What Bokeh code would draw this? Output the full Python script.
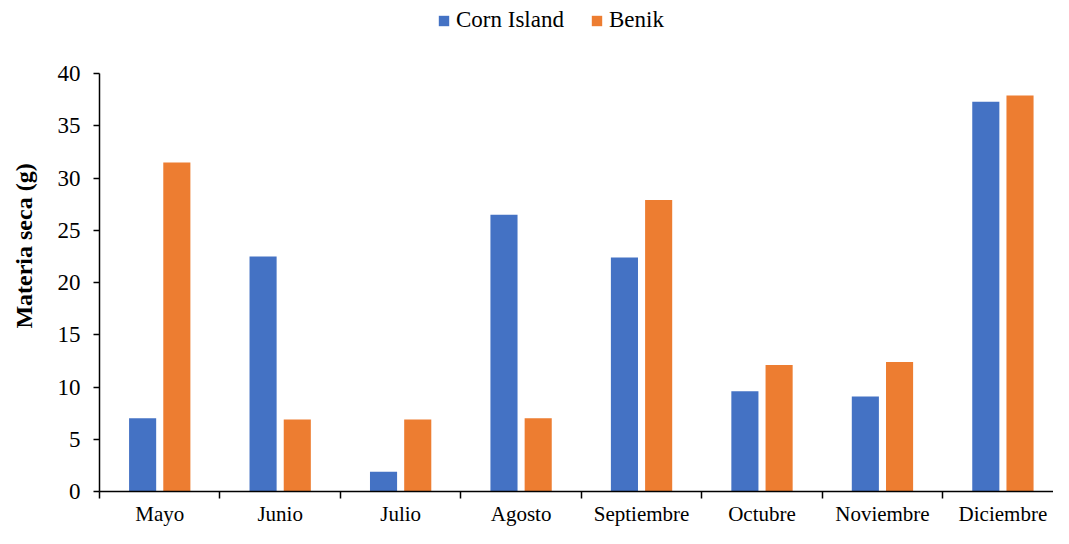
from bokeh.plotting import figure
from bokeh.models import Range1d, FixedTicker, Legend, LegendItem, ColumnDataSource
from bokeh.embed import file_html
from bokeh.resources import INLINE

months = ["Mayo", "Junio", "Julio", "Agosto", "Septiembre", "Octubre", "Noviembre", "Diciembre"]
corn_island = [7.0, 22.5, 1.9, 26.5, 22.4, 9.6, 9.1, 37.3]
benik = [31.5, 6.9, 6.9, 7.0, 27.9, 12.1, 12.4, 37.9]
y_ticks = [0, 5, 10, 15, 20, 25, 30, 35, 40]

centers = [i + 0.5 for i in range(len(months))]
src = ColumnDataSource(dict(
    xc=[c - 0.142 for c in centers],
    xb=[c + 0.142 for c in centers],
    ci=corn_island, bk=benik))

FONT = "Liberation Serif"

p = figure(width=1053, height=528, output_backend="svg", toolbar_location=None, title=None,
           x_range=Range1d(0, 7.92), y_range=Range1d(0, 47.0),
           min_border_left=99, min_border_right=0, min_border_top=0, min_border_bottom=33)
p.outline_line_color = None
p.grid.grid_line_color = None

r1 = p.vbar(x="xc", top="ci", width=0.225, source=src, fill_color="#4472C4", line_color=None)
r2 = p.vbar(x="xb", top="bk", width=0.225, source=src, fill_color="#ED7D31", line_color=None)

xa = p.xaxis[0]
xa.ticker = FixedTicker(ticks=centers, minor_ticks=list(range(len(months) + 1)))
xa.major_label_overrides = {c: m for c, m in zip(centers, months)}
xa.major_tick_out = 0
xa.major_tick_in = 0
xa.minor_tick_out = 7
xa.minor_tick_in = 0
xa.minor_tick_line_color = "black"
xa.axis_line_color = "black"
xa.axis_line_width = 1.5
xa.minor_tick_line_width = 1.5
xa.major_label_text_font = FONT
xa.major_label_text_font_size = "21px"
xa.major_label_text_color = "black"
xa.major_label_standoff = 3

ya = p.yaxis[0]
ya.ticker = FixedTicker(ticks=y_ticks)
ya.bounds = (0, 40)
ya.minor_tick_line_color = None
ya.major_tick_out = 6
ya.major_tick_in = 0
ya.axis_line_color = "black"
ya.axis_line_width = 1.5
ya.major_tick_line_width = 1.5
ya.major_label_text_font = FONT
ya.major_label_text_font_size = "23px"
ya.major_label_text_color = "black"
ya.major_label_standoff = 13
ya.axis_label = "Materia seca (g)"
ya.axis_label_text_font = FONT
ya.axis_label_text_font_size = "24px"
ya.axis_label_text_font_style = "bold"
ya.axis_label_text_color = "black"
ya.axis_label_standoff = 18

legend = Legend(items=[LegendItem(label="Corn Island", renderers=[r1]),
                       LegendItem(label="Benik", renderers=[r2])],
                orientation="horizontal", location=(338, 458),
                label_text_font=FONT, label_text_font_size="23px",
                label_text_color="black", glyph_width=13, glyph_height=13,
                spacing=26, label_standoff=6, border_line_color=None,
                background_fill_alpha=0, padding=0, margin=0)
p.add_layout(legend, "center")

open("out.html", "w").write(file_html(p, INLINE))
